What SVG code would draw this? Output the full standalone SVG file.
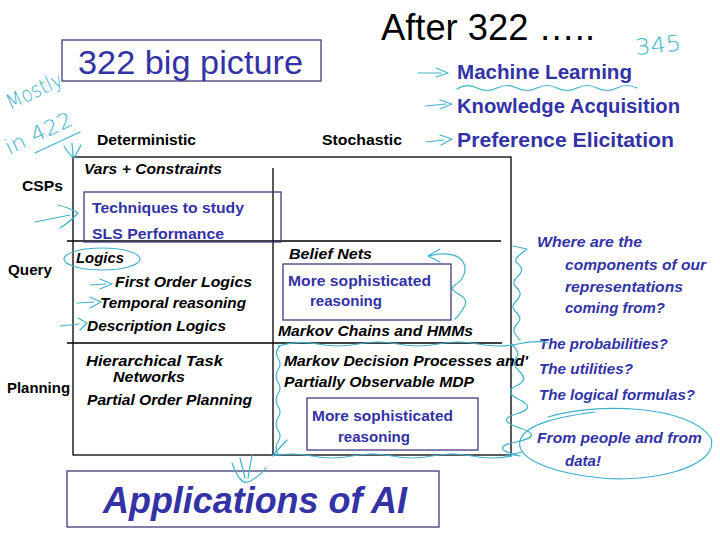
<svg xmlns="http://www.w3.org/2000/svg" width="720" height="540" viewBox="0 0 720 540">
<style>
.bg{fill:#ffffff}
.grid{stroke:#000;stroke-width:1.3;fill:none}
.bbox{fill:none;stroke:#3c3c7c;stroke-width:1.3}
.lbl{font-family:"Liberation Sans",Arial,sans-serif;font-weight:bold;font-size:15px;fill:#000}
.it{font-family:"Liberation Sans",Arial,sans-serif;font-weight:bold;font-style:italic;font-size:15px;fill:#000}
.bl{font-family:"Liberation Sans",Arial,sans-serif;font-weight:bold;font-size:15px;fill:#3333a6}
.bli{font-family:"Liberation Sans",Arial,sans-serif;font-weight:bold;font-style:italic;font-size:15px;fill:#3333a6}
.big{font-family:"Liberation Sans",Arial,sans-serif;font-weight:bold;font-size:20px;fill:#3333a6}
.hand{font-family:"DejaVu Sans",sans-serif;font-weight:200;fill:#3fb2cb}
.ink{fill:none;stroke:#3fb2cb;stroke-width:1.2;stroke-linecap:round;stroke-linejoin:round}
</style>
<rect class="bg" x="0" y="0" width="720" height="540"/>

<g id="titles">
<text x="381" y="40" font-family="Liberation Sans, Arial, sans-serif" font-size="36" fill="#000" textLength="214" lengthAdjust="spacingAndGlyphs">After 322 …..</text>
</g>

<g id="node-bigpicture">
<rect class="bbox" x="62" y="40" width="259" height="41"/>
<text x="78" y="74" font-family="Liberation Sans, Arial, sans-serif" font-size="34" fill="#3333a6" textLength="225" lengthAdjust="spacingAndGlyphs">322 big picture</text>
</g>

<g id="node-after">
<text class="big" x="457" y="79" textLength="175" lengthAdjust="spacingAndGlyphs">Machine Learning</text>
<text class="big" x="457" y="113" textLength="223" lengthAdjust="spacingAndGlyphs">Knowledge Acquisition</text>
<text class="big" x="457" y="147" textLength="217" lengthAdjust="spacingAndGlyphs">Preference Elicitation</text>
</g>

<g id="grid">
<rect class="grid" x="73" y="157" width="438" height="298"/>
<line class="grid" x1="273" y1="168" x2="273" y2="455"/>
<line class="grid" x1="67" y1="241" x2="501" y2="241"/>
<line class="grid" x1="67" y1="343" x2="502" y2="343"/>
</g>

<g id="headers">
<text class="lbl" x="97" y="145" textLength="99" lengthAdjust="spacingAndGlyphs">Deterministic</text>
<text class="lbl" x="322" y="145" textLength="80" lengthAdjust="spacingAndGlyphs">Stochastic</text>
<text class="lbl" x="22" y="191" textLength="41" lengthAdjust="spacingAndGlyphs">CSPs</text>
<text class="lbl" x="8" y="275" textLength="44" lengthAdjust="spacingAndGlyphs">Query</text>
<text class="lbl" x="7" y="393" textLength="63" lengthAdjust="spacingAndGlyphs">Planning</text>
</g>

<g id="node-csp">
<text class="it" x="84" y="174" textLength="138" lengthAdjust="spacingAndGlyphs">Vars + Constraints</text>
<rect class="bbox" x="84" y="192" width="197" height="50"/>
<text class="bl" x="92" y="213" textLength="152" lengthAdjust="spacingAndGlyphs">Techniques to study</text>
<text class="bl" x="92" y="239" textLength="132" lengthAdjust="spacingAndGlyphs">SLS Performance</text>
</g>

<g id="node-query-det">
<text class="it" x="76" y="263" textLength="48" lengthAdjust="spacingAndGlyphs">Logics</text>
<text class="it" x="115" y="287" textLength="137" lengthAdjust="spacingAndGlyphs">First Order Logics</text>
<text class="it" x="100" y="308" textLength="146" lengthAdjust="spacingAndGlyphs">Temporal reasoning</text>
<text class="it" x="87" y="331" textLength="139" lengthAdjust="spacingAndGlyphs">Description Logics</text>
</g>

<g id="node-query-sto">
<text class="it" x="289" y="259" textLength="83" lengthAdjust="spacingAndGlyphs">Belief Nets</text>
<rect class="bbox" x="283" y="264" width="168" height="56"/>
<text class="bl" x="288" y="286" textLength="143" lengthAdjust="spacingAndGlyphs">More sophisticated</text>
<text class="bl" x="310" y="306" textLength="72" lengthAdjust="spacingAndGlyphs">reasoning</text>
<text class="it" x="278" y="336" textLength="195" lengthAdjust="spacingAndGlyphs">Markov Chains and HMMs</text>
</g>

<g id="node-plan-det">
<text class="it" x="86" y="366" textLength="137" lengthAdjust="spacingAndGlyphs">Hierarchical  Task</text>
<text class="it" x="113" y="382" textLength="72" lengthAdjust="spacingAndGlyphs">Networks</text>
<text class="it" x="87" y="405" textLength="165" lengthAdjust="spacingAndGlyphs">Partial Order Planning</text>
</g>

<g id="node-plan-sto">
<text class="it" x="284" y="366" textLength="244" lengthAdjust="spacingAndGlyphs">Markov Decision Processes  and'</text>
<text class="it" x="284" y="387" textLength="190" lengthAdjust="spacingAndGlyphs">Partially Observable MDP</text>
<rect class="bbox" x="307" y="398" width="171" height="52"/>
<text class="bl" x="312" y="421" textLength="141" lengthAdjust="spacingAndGlyphs">More sophisticated</text>
<text class="bl" x="338" y="442" textLength="72" lengthAdjust="spacingAndGlyphs">reasoning</text>
</g>

<g id="node-questions">
<text class="bli" x="537" y="247" textLength="105" lengthAdjust="spacingAndGlyphs">Where are the</text>
<text class="bli" x="565" y="270" textLength="141" lengthAdjust="spacingAndGlyphs">components of our</text>
<text class="bli" x="565" y="292" textLength="118" lengthAdjust="spacingAndGlyphs">representations</text>
<text class="bli" x="565" y="313" textLength="100" lengthAdjust="spacingAndGlyphs">coming from?</text>
<text class="bli" x="539" y="349" textLength="129" lengthAdjust="spacingAndGlyphs">The probabilities?</text>
<text class="bli" x="539" y="374" textLength="94" lengthAdjust="spacingAndGlyphs">The utilities?</text>
<text class="bli" x="539" y="400" textLength="156" lengthAdjust="spacingAndGlyphs">The logical formulas?</text>
<text class="bli" x="537" y="443" textLength="165" lengthAdjust="spacingAndGlyphs">From people and from</text>
<text class="bli" x="565" y="466" textLength="36" lengthAdjust="spacingAndGlyphs">data!</text>
</g>

<g id="node-applications">
<rect class="bbox" x="67" y="471" width="372" height="56"/>
<text x="103" y="513" font-family="Liberation Sans, Arial, sans-serif" font-weight="bold" font-style="italic" font-size="36" fill="#3333a6" textLength="304" lengthAdjust="spacingAndGlyphs">Applications of AI</text>
</g>

<g id="handwriting">
<text class="hand" x="10" y="110" font-size="21" transform="rotate(-25 10 110)" textLength="60" lengthAdjust="spacingAndGlyphs">Mostly</text>
<text class="hand" x="9" y="155" font-size="21" transform="rotate(-25 9 155)" textLength="72" lengthAdjust="spacingAndGlyphs">in 422</text>
<text class="hand" x="636" y="55" font-size="22" transform="rotate(-6 636 55)" textLength="46" lengthAdjust="spacingAndGlyphs">345</text>
</g>

<g id="connectors">
<!-- arrows to after-322 topics -->
<path class="ink" d="M418 73 L441 73 M436 68 L448 73 L436 77"/>
<path class="ink" d="M425 106 L446 104 M440 100 L452 104 L440 109" stroke-width="1.8"/>
<path class="ink" d="M426 142 L444 140 M440 135 L452 139 L441 145"/>
<path class="ink" d="M457 89 q10 -6 20 -1 t20 0 t20 0 t20 0 t20 0 t20 0 t20 0 t20 0 t20 0"/>
<!-- mostly in 422 marks -->
<path class="ink" d="M35 153 L80 132"/>
<path class="ink" d="M64 146 Q70 156 74 158 Q78 151 81 145 M72 143 L73 156"/>
<!-- left arrows -->
<path class="ink" d="M35 222 L70 215 M58 205 Q70 208 78 213 Q70 222 60 228"/>
<ellipse class="ink" cx="102" cy="259" rx="38" ry="11"/>
<path class="ink" d="M90 285 L106 284 M100 279 L112 284 L100 289"/>
<path class="ink" d="M77 303 L94 302 M90 297 L101 302 L90 308"/>
<path class="ink" d="M60 326 L79 324 M78 318 L87 323 L80 330"/>
<!-- belief nets back arrow -->
<path class="ink" d="M440 249 L428 256 L440 262 M428 256 C470 246 472 275 455 285 C444 292 470 294 465 305 C462 312 458 316 455 319"/>
<!-- right zigzag bracket -->
<path class="ink" d="M513 246 L527 249 C520 255 514 258 516 262 C520 266 524 268 520 274 C515 279 512 282 515 286 C520 291 522 294 518 299 C513 304 511 307 515 311 C520 316 522 319 517 324 C512 329 513 333 520 340"/>
<!-- wavy outline of MDP cell -->
<path class="ink" d="M278 346 q20 -6 40 -2 t40 0 t40 0 t40 0 t40 0 t40 0 t30 -1"/>
<path class="ink" d="M511 344 q10 8 5 14 t4 14 t-4 14 t4 14 t-4 14 t4 14 t-4 14 t4 14 L513 455"/>
<path class="ink" d="M512 456 q-20 4 -40 0 t-40 0 t-40 0 t-40 0 t-40 0 t-40 0 L282 454"/>
<path class="ink" d="M280 346 q-6 6 -2 12 t0 12 t0 12 t0 12 t0 12 t0 12 t0 12 t0 12 t0 12 M287 440 L273 455"/>
<!-- circle around from people and from data -->
<path class="ink" d="M505 456 L522 452 M548 417 C595 402 690 405 711 438 C720 468 645 486 585 476 C545 470 516 457 520 441 C524 425 555 417 595 412"/>
<!-- arrow to applications -->
<path class="ink" d="M232 463 Q240 485 248 482 Q258 478 266 468 M240 458 L245 478 M252 455 L248 478"/>
</g>
</svg>
